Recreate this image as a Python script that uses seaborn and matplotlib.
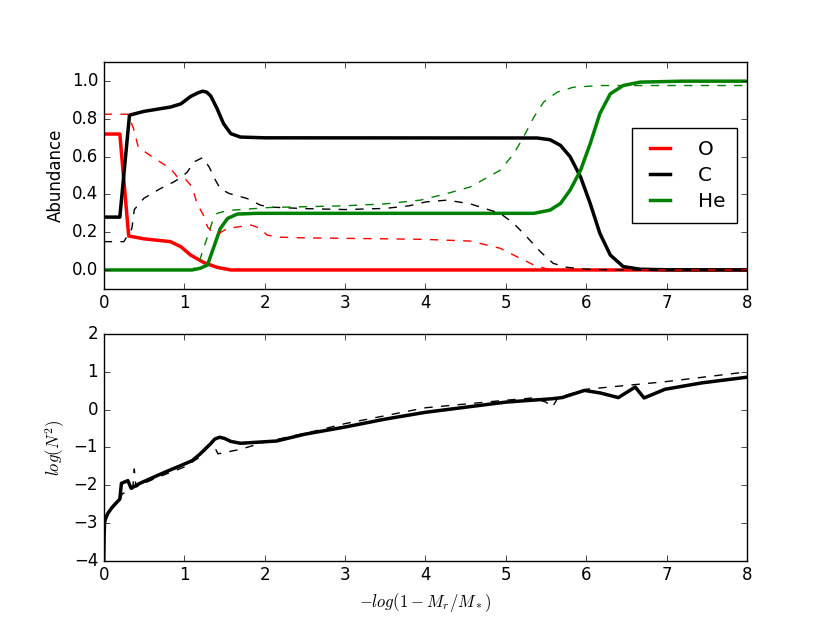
import numpy as np
import pandas as pd
import matplotlib
matplotlib.use("Agg")
import matplotlib.pyplot as plt
import seaborn as sns

# Abundance profiles (solid = model, dashed = comparison)
o_x = [0.0, 0.2, 0.31, 0.5, 0.83, 0.96, 1.08, 1.246, 1.41, 1.58, 2.0, 8.0]
o_y = [0.72, 0.72, 0.18, 0.165, 0.15, 0.123, 0.079, 0.039, 0.014, 0.0, 0.0, 0.0]

c_x = [0.0, 0.2, 0.32, 0.5, 0.83, 0.96, 1.08, 1.17, 1.23, 1.28, 1.33, 1.41, 1.49, 1.58, 1.70, 2.0,
       5.39, 5.55, 5.68, 5.80, 5.93, 6.05, 6.17, 6.30, 6.46, 6.67, 7.0, 8.0]
c_y = [0.28, 0.28, 0.82, 0.84, 0.863, 0.88, 0.919, 0.938, 0.947, 0.942, 0.922, 0.854, 0.775, 0.722,
       0.704, 0.70, 0.699, 0.69, 0.66, 0.60, 0.493, 0.352, 0.194, 0.079, 0.018, 0.004, 0.001, 0.0]

he_x = [0.0, 1.1, 1.2, 1.29, 1.37, 1.45, 1.54, 1.66, 1.9, 5.35, 5.55, 5.68, 5.80, 5.93,
        6.05, 6.17, 6.30, 6.46, 6.67, 7.2, 8.0]
he_y = [0.0, 0.0, 0.009, 0.026, 0.123, 0.22, 0.273, 0.296, 0.30, 0.30, 0.317, 0.352, 0.423, 0.528,
        0.669, 0.828, 0.933, 0.977, 0.995, 1.0, 1.0]

o2_x = [0.0, 0.3, 0.37, 0.43, 0.6, 0.83, 0.915, 1.02, 1.10, 1.16, 1.25, 1.29, 1.35, 1.43,
        1.54, 1.83, 1.95, 2.03, 2.17, 2.5, 3.5, 4.0, 4.56, 4.93, 5.14, 5.35, 5.51, 5.7, 8.0]
o2_y = [0.825, 0.825, 0.75, 0.65, 0.6, 0.537, 0.493, 0.479, 0.44, 0.352, 0.282, 0.229, 0.199, 0.193,
        0.22, 0.238, 0.22, 0.185, 0.174, 0.17, 0.165, 0.162, 0.153, 0.115, 0.07, 0.026, 0.006, 0.0, 0.0]

c2_x = [0.0, 0.25, 0.35, 0.38, 0.5, 0.7, 0.87, 0.96, 1.04, 1.12, 1.23, 1.31, 1.39, 1.45,
        1.56, 1.78, 1.95, 2.07, 2.5, 3.0, 3.5, 3.8, 4.0, 4.27, 4.56, 4.93, 5.10, 5.26, 5.43,
        5.59, 5.76, 6.0, 6.3, 8.0]
c2_y = [0.15, 0.15, 0.22, 0.32, 0.38, 0.43, 0.466, 0.49, 0.519, 0.572, 0.595, 0.546, 0.475, 0.43,
        0.405, 0.379, 0.343, 0.333, 0.325, 0.32, 0.326, 0.34, 0.36, 0.37, 0.35, 0.30, 0.246, 0.176, 0.097,
        0.035, 0.014, 0.004, 0.0, 0.0]

he2_x = [0.0, 1.1, 1.18, 1.29, 1.35, 1.41, 1.54, 2.07, 2.5, 3.0, 3.5, 3.94, 4.27, 4.56,
         4.93, 5.10, 5.22, 5.35, 5.47, 5.64, 5.84, 6.17, 8.0]
he2_y = [0.0, 0.0, 0.035, 0.176, 0.255, 0.30, 0.315, 0.331, 0.335, 0.34, 0.35, 0.37, 0.405, 0.44,
         0.528, 0.616, 0.704, 0.81, 0.889, 0.942, 0.968, 0.977, 0.977]

# Brunt-Vaisala frequency profiles
n_x = [0.0, 0.005, 0.01, 0.02, 0.05, 0.1, 0.15, 0.2, 0.22, 0.3, 0.34, 0.45, 0.66, 0.8, 0.97, 1.1,
       1.2, 1.33, 1.38, 1.44, 1.5, 1.58, 1.7, 2.0, 2.15, 2.5, 3.0, 3.5, 4.0, 5.0, 5.58, 5.7, 5.98,
       6.18, 6.4, 6.61, 6.72, 6.98, 7.44, 8.0]
n_y = [-4.0, -3.3, -3.0, -2.9, -2.75, -2.6, -2.48, -2.37, -1.95, -1.88, -2.08, -1.95, -1.75, -1.62,
       -1.47, -1.35, -1.17, -0.9, -0.78, -0.73, -0.76, -0.84, -0.89, -0.85, -0.83, -0.65, -0.46, -0.25,
       -0.07, 0.2, 0.29, 0.32, 0.51, 0.44, 0.32, 0.6, 0.31, 0.54, 0.71, 0.86]

n2_x = [0.0, 0.005, 0.01, 0.02, 0.05, 0.1, 0.15, 0.2, 0.23, 0.36, 0.38, 0.4, 0.45, 0.66, 1.0, 1.2,
        1.3, 1.37, 1.42, 1.7, 2.0, 2.3, 2.6, 3.0, 3.5, 4.0, 5.0, 5.34, 5.5, 5.58, 5.65,
        6.0, 6.98, 8.0]
n2_y = [-4.0, -3.3, -3.0, -2.9, -2.75, -2.6, -2.48, -2.38, -2.23, -2.1, -1.57, -2.05, -2.0, -1.8,
        -1.52, -1.25, -0.97, -0.95, -1.17, -1.05, -0.86, -0.72, -0.58, -0.37, -0.16, 0.05, 0.25, 0.31,
        0.2, 0.07, 0.32, 0.54, 0.74, 1.0]

plt.style.use("classic")
plt.rcParams["figure.facecolor"] = "white"
plt.rcParams["savefig.facecolor"] = "white"
plt.rcParams["mathtext.fontset"] = "cm"

fig, (ax1, ax2) = plt.subplots(2, 1, figsize=(8.3, 6.23), dpi=100)

# top panel: abundances
sns.lineplot(x=o_x, y=o_y, ax=ax1, color="r", lw=2.5, label="O", sort=False, estimator=None)
sns.lineplot(x=c_x, y=c_y, ax=ax1, color="k", lw=2.5, label="C", sort=False, estimator=None)
sns.lineplot(x=he_x, y=he_y, ax=ax1, color="g", lw=2.5, label="He", sort=False, estimator=None)
sns.lineplot(x=o2_x, y=o2_y, ax=ax1, color="r", lw=1, linestyle="--", sort=False, estimator=None)
sns.lineplot(x=c2_x, y=c2_y, ax=ax1, color="k", lw=1, linestyle="--", sort=False, estimator=None)
sns.lineplot(x=he2_x, y=he2_y, ax=ax1, color="g", lw=1, linestyle="--", sort=False, estimator=None)
ax1.set_xlim(0, 8)
ax1.set_ylim(-0.1, 1.1)
ax1.set_ylabel("Abundance")
ax1.legend(loc="center right", handlelength=1.6, handletextpad=1.1, borderpad=0.6,
           labelspacing=0.35)

# bottom panel: log N^2
sns.lineplot(x=n_x, y=n_y, ax=ax2, color="k", lw=2.5, sort=False, estimator=None)
sns.lineplot(x=n2_x, y=n2_y, ax=ax2, color="k", lw=1, linestyle="--", sort=False, estimator=None)
ax2.set_xlim(0, 8)
ax2.set_ylim(-4, 2)
ax2.set_ylabel(r"$log(N^2)$")
ax2.set_xlabel(r"$-log(1-M_r/M_*)$")

fig.savefig("out.png", dpi=100)
